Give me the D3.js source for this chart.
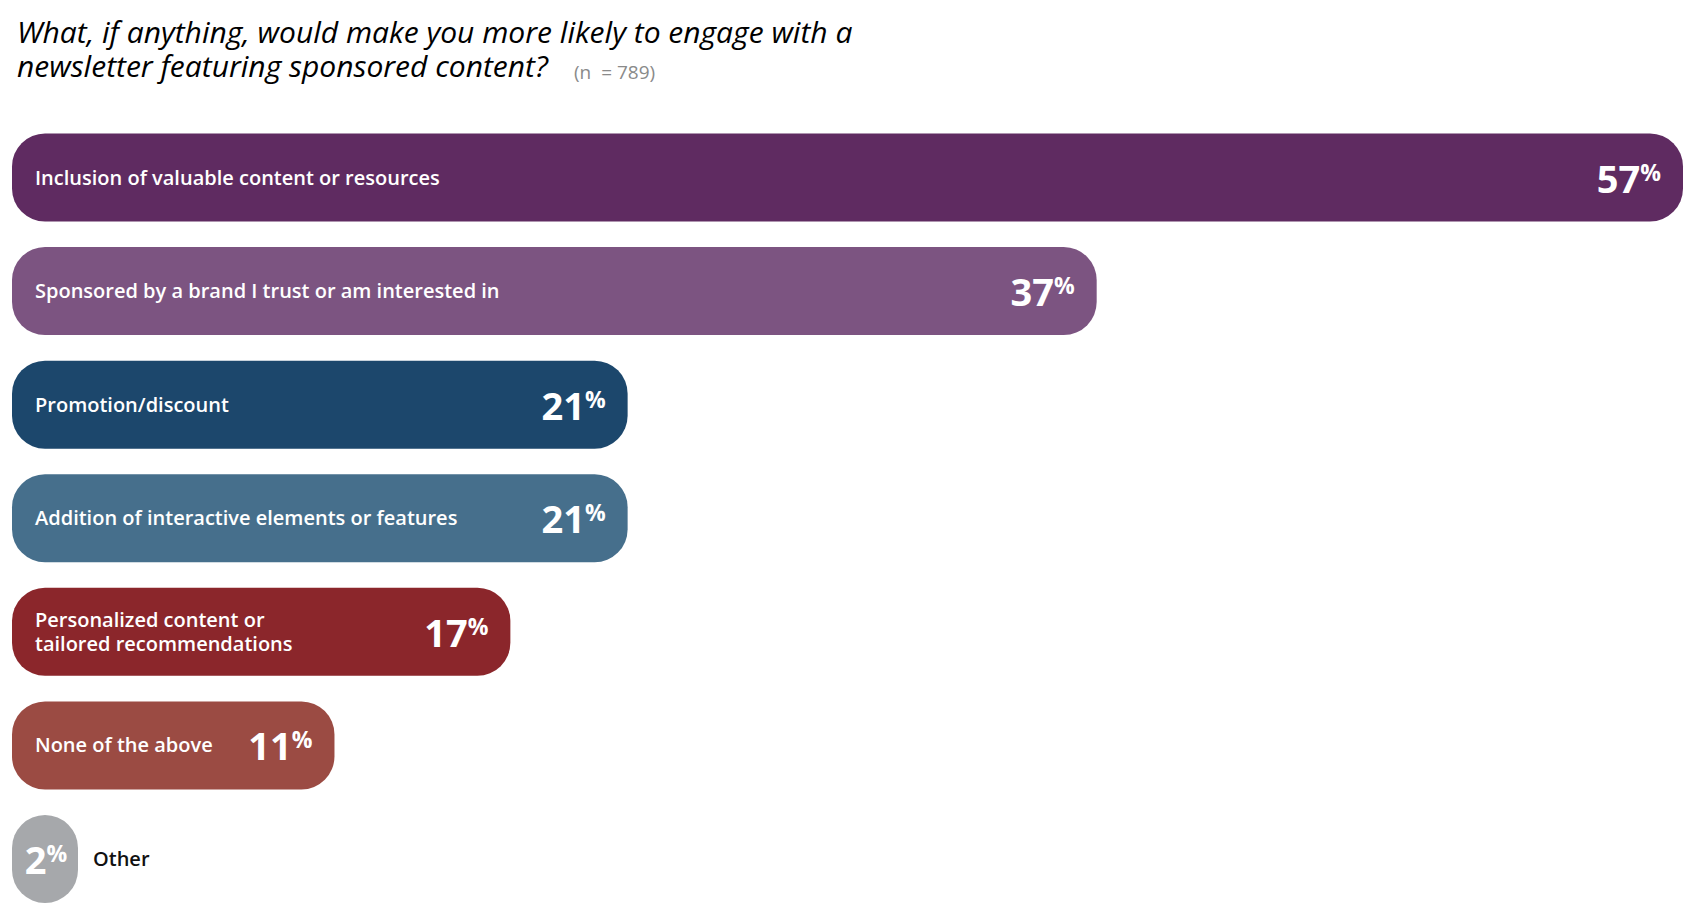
<!DOCTYPE html>
<html><head><meta charset="utf-8">
<script src="https://cdn.jsdelivr.net/npm/d3@7"></script>
<style>body{margin:0;background:#fff;} svg{display:block;}</style>
</head><body>
<svg id="c" width="1700" height="922"></svg>
<script>
const titleLines = ["What, if anything, would make you more likely to engage with a", "newsletter featuring sponsored content?"];
const sampleNote = "(n  = 789)";
const categories = [
  "Inclusion of valuable content or resources",
  "Sponsored by a brand I trust or am interested in",
  "Promotion/discount",
  "Addition of interactive elements or features",
  "Personalized content or\ntailored recommendations",
  "None of the above",
  "Other"
];
const values = [57, 37, 21, 21, 17, 11, 2];
const colors = ["#5f2b61", "#7c5481", "#1c476c", "#466f8c", "#8b262b", "#9b4b43", "#a6a8ab"];

const svg = d3.select("#c");
const font = "'Open Sans', 'Noto Sans', sans-serif";

// Title
titleLines.forEach((l, i) => svg.append("text").attr("font-family", font).attr("font-style", "italic")
  .attr("font-size", 30).attr("fill", "#000")
  .attr("x", 17).attr("y", 43 + i * 34).text(l));
svg.append("text").attr("x", 574).attr("y", 79).attr("font-family", font)
  .style("white-space", "pre")
  .attr("font-size", 19).attr("fill", "#8a8a8a").text(sampleNote);

const x0 = 12;
const x = d3.scaleLinear().domain([0, 57]).range([0, 1671]);
const y = d3.scaleBand().domain(categories).range([133.5, 903]).paddingInner(0.225).paddingOuter(0);
const bh = y.bandwidth();

const rows = svg.selectAll("g.row").data(categories.map((c, i) => ({c, v: values[i], col: colors[i]})))
  .enter().append("g").attr("class", "row");

rows.append("rect")
  .attr("x", x0).attr("y", d => y(d.c))
  .attr("width", d => Math.max(x(d.v), 66)).attr("height", bh)
  .attr("rx", d => Math.min(33, Math.max(x(d.v), 66) / 2)).attr("ry", d => Math.min(33, bh/2) )
  .attr("fill", d => d.col);

rows.each(function(d) {
  const g = d3.select(this);
  const w = Math.max(x(d.v), 66);
  const cy = y(d.c) + bh / 2;
  const narrow = w < 120;
  // category label
  const lines = d.c.split("\n");
  const lab = g.append("text").attr("font-family", font).attr("font-weight", 600)
    .attr("font-size", 20).attr("fill", narrow ? "#111" : "#fff");
  const lx = narrow ? x0 + w + 15 : 35;
  lines.forEach((l, i) => lab.append("tspan").attr("x", lx)
    .attr("y", cy + 7 + (i - (lines.length - 1) / 2) * 24).text(l));
  // value label
  const vt = g.append("text").attr("font-family", font).attr("font-weight", 700)
    .attr("fill", "#fff").attr("y", cy + 15)
    .attr("text-anchor", narrow ? "middle" : "end")
    .attr("x", narrow ? x0 + w / 2 + 1 : x0 + w - 22);
  vt.append("tspan").attr("font-size", 38).text(d.v);
  vt.append("tspan").attr("font-size", 23).attr("dy", -12).text("%");
});
</script>
</body></html>
